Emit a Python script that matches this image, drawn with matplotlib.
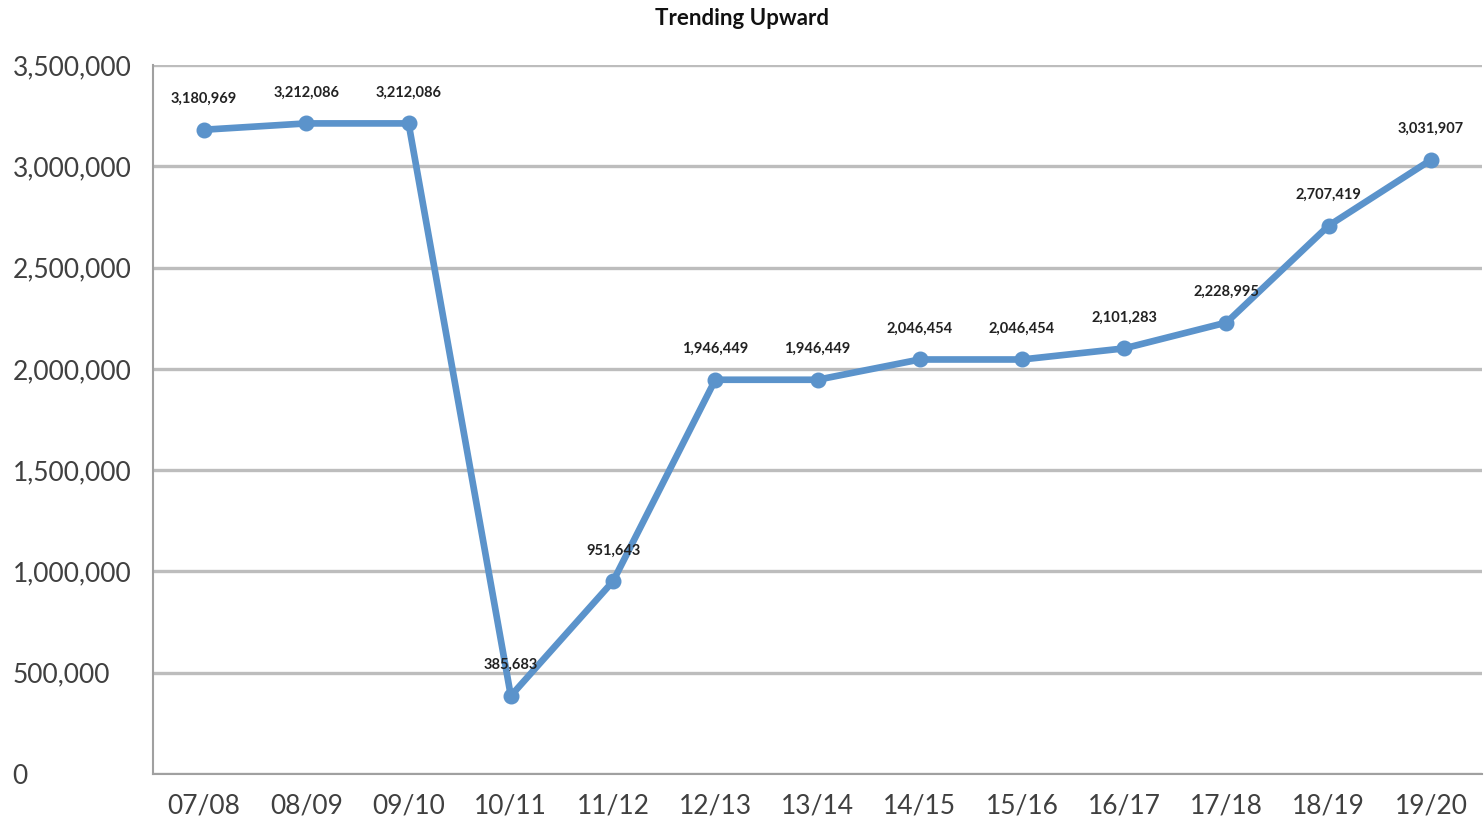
import numpy as np
import matplotlib.pyplot as plt
from matplotlib.ticker import FuncFormatter

# Data.
years = ['07/08', '08/09', '09/10', '10/11', '11/12', '12/13', '13/14',
         '14/15', '15/16', '16/17', '17/18', '18/19', '19/20']
values = [3180969, 3212086, 3212086, 385683, 951643, 1946449, 1946449,
          2046454, 2046454, 2101283, 2228995, 2707419, 3031907]

plt.rcParams['font.family'] = ['Lato', 'DejaVu Sans']

fig = plt.figure(figsize=(14.84, 8.24), dpi=100)
ax = fig.add_axes([0.1031, 0.0607, 0.8956, 0.8603])

x = np.arange(len(years))
ax.plot(x, values, color='#5B93CB', lw=4.8, marker='o', ms=10.5,
        solid_joinstyle='round', zorder=3)

for xi, v in zip(x, values):
    ax.annotate(f'{v:,}', (xi, v), xytext=(0, 17), textcoords='offset points',
                ha='center', va='bottom', fontsize=10.5, fontweight='bold',
                color='#222222', zorder=4)

ax.set_xlim(-0.5, len(years) - 0.5)
ax.set_ylim(0, 3500000)
ax.set_yticks(np.arange(0, 3500001, 500000))
ax.yaxis.set_major_formatter(FuncFormatter(lambda v, p: f'{int(v):,}'))
ax.set_xticks(x)
ax.set_xticklabels(years)

ax.grid(axis='y', color='#BDBDBD', lw=2.4)
ax.set_axisbelow(True)
for s in ['top', 'right']:
    ax.spines[s].set_visible(False)
ax.spines['left'].set_color('#A0A0A0')
ax.spines['bottom'].set_color('#A0A0A0')
ax.spines['left'].set_linewidth(1.5)
ax.spines['bottom'].set_linewidth(1.5)

ax.tick_params(axis='both', length=0, labelsize=19, labelcolor='#404040')
ax.tick_params(axis='y', pad=101)
for lbl in ax.get_yticklabels():
    lbl.set_horizontalalignment('left')
ax.tick_params(axis='x', pad=14)

fig.suptitle('Trending Upward', y=0.99, fontsize=16, fontweight='bold',
             color='#111111')

fig.savefig('out.png', dpi=100)
